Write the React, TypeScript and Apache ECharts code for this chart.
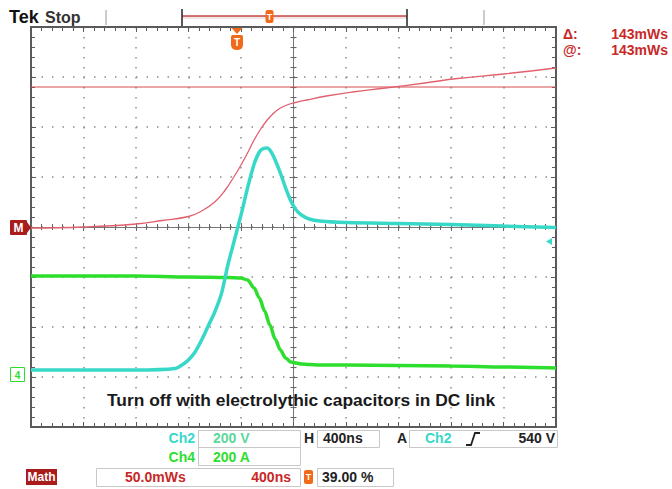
import React, { useEffect, useRef } from "react";
import * as echarts from "echarts";

// Time relative to screen centre, ns (400 ns / div)
const ch2Time = [-2000, -1600, -1200, -900, -850, -800, -750, -700, -650, -600, -550, -500, -450, -400, -350, -300, -260, -230, -200, -170, -140, -100, -60, -20, 20, 60, 120, 200, 400, 800, 1200, 1600, 2000];
// Ch2 (200 V/div), screen divisions from centre
const ch2Div = [-2.86, -2.86, -2.86, -2.83, -2.76, -2.66, -2.5, -2.26, -1.98, -1.7, -1.34, -0.76, -0.26, 0.24, 0.78, 1.26, 1.5, 1.57, 1.58, 1.5, 1.34, 1.08, 0.78, 0.52, 0.34, 0.24, 0.16, 0.12, 0.09, 0.07, 0.05, 0.02, -0.01];

const ch4Time = [-2000, -1600, -1200, -800, -500, -400, -350, -300, -260, -220, -180, -140, -100, -60, -20, 20, 60, 120, 200, 400, 800, 1200, 1600, 2000];
// Ch4 (200 A/div), screen divisions from centre
const ch4Div = [-0.98, -0.98, -0.98, -1.0, -1.01, -1.02, -1.06, -1.22, -1.42, -1.68, -1.96, -2.24, -2.46, -2.62, -2.7, -2.72, -2.74, -2.75, -2.76, -2.76, -2.77, -2.78, -2.8, -2.82];

const mathTime = [-2000, -1600, -1200, -1000, -800, -700, -600, -520, -450, -400, -350, -300, -250, -200, -150, -100, -50, 0, 100, 250, 450, 700, 1000, 1250, 1600, 2000];
// Math (50.0 mWs/div), screen divisions from centre
const mathDiv = [-0.02, 0, 0.06, 0.13, 0.21, 0.32, 0.5, 0.74, 1.02, 1.24, 1.48, 1.74, 1.96, 2.14, 2.28, 2.38, 2.44, 2.48, 2.54, 2.62, 2.7, 2.78, 2.88, 2.97, 3.06, 3.18];

// Horizontal red reference level (divisions)
const refLevelDiv = 2.8;

const headerTexts = { tek: "Tek", state: "Stop" };
const cursorLabels = ["Δ:", "@:"];
const cursorValues = ["143mWs", "143mWs"];
const ch2Scale = "200 V";
const ch4Scale = "200 A";
const timeBase = "400ns";
const trigSource = "Ch2";
const trigLevel = "540 V";
const mathScale = "50.0mWs";
const mathTimeBase = "400ns";
const trigPos = "39.00 %";
const caption = "Turn off with electrolythic capacitors in DC link";

const FONT = "'Liberation Sans', Arial, sans-serif";
const GRID = "#5a5a5a";

function zip(t: number[], v: number[]) {
  return t.map((x, i) => [x, v[i]]);
}

function borderAxis(extra: any) {
  return {
    type: "value",
    axisLabel: { show: false },
    splitLine: { show: false },
    axisLine: { show: true, onZero: false, lineStyle: { color: GRID, width: 2 } },
    axisTick: { show: true, inside: true, length: 5, lineStyle: { color: GRID, width: 1 } },
    minorTick: { show: true, splitNumber: 5, length: 4, lineStyle: { color: GRID, width: 1 } },
    ...extra,
  };
}

function centerAxis(inside: boolean, extra: any) {
  return {
    type: "value",
    axisLabel: { show: false },
    splitLine: { show: false },
    axisLine: { show: true, onZero: true, onZeroAxisIndex: 0, lineStyle: { color: "#777", width: 1 } },
    axisTick: { show: true, inside, length: 4, lineStyle: { color: "#666", width: 1 } },
    minorTick: { show: true, splitNumber: 5, length: 3, lineStyle: { color: "#666", width: 1 } },
    ...extra,
  };
}

const xRange = { min: -2000, max: 2000, interval: 400 };
const yRange = { min: -4, max: 4, interval: 1 };

function txt(x: number, y: number, text: string, fill: string, opts: any = {}) {
  return {
    type: "text",
    x,
    y,
    silent: true,
    style: {
      text,
      fill,
      font: opts.font || `bold 14px ${FONT}`,
      textAlign: opts.align || "left",
      textVerticalAlign: "middle",
    },
    z: 100,
  };
}

function box(x: number, y: number, w: number, h: number, stroke = "#c8c8c8", fill = "none") {
  return { type: "rect", shape: { x, y, width: w, height: h }, style: { stroke, fill, lineWidth: 1 }, silent: true, z: 90 };
}

function line(x1: number, y1: number, x2: number, y2: number, stroke: string, w = 1) {
  return { type: "line", shape: { x1, y1, x2, y2 }, style: { stroke, lineWidth: w }, silent: true, z: 95 };
}

const ORANGE = "#f06a1a";
const RED = "#c82828";
const CYAN = "#38d8c8";
const GREEN = "#2ede2e";

const option: any = {
  animation: false,
  backgroundColor: "#ffffff",
  grid: { left: 31, top: 27, width: 525, height: 400, containLabel: false },
  xAxis: [
    borderAxis({
      ...xRange,
      position: "bottom",
      splitLine: { show: true, lineStyle: { color: "#8c8c8c", width: 1.5, type: [1.5, 8.5] } },
    }),
    borderAxis({ ...xRange, position: "top" }),
    centerAxis(true, { ...xRange, position: "bottom" }),
    centerAxis(false, { ...xRange, position: "bottom" }),
  ],
  yAxis: [
    borderAxis({
      ...yRange,
      position: "left",
      splitLine: { show: true, lineStyle: { color: "#8c8c8c", width: 1.5, type: [1.5, 9] } },
    }),
    borderAxis({ ...yRange, position: "right" }),
    centerAxis(true, { ...yRange, position: "left" }),
    centerAxis(false, { ...yRange, position: "left" }),
  ],
  series: [
    {
      name: "Ref",
      type: "line",
      data: [[-2000, refLevelDiv], [2000, refLevelDiv]],
      showSymbol: false,
      lineStyle: { color: "#d44c4c", width: 1.2 },
      z: 3,
    },
    {
      name: "Math",
      type: "line",
      data: zip(mathTime, mathDiv),
      showSymbol: false,
      smooth: 0.45,
      lineStyle: { color: "#e2606e", width: 1.3 },
      z: 4,
    },
    {
      name: "Ch4",
      type: "line",
      data: zip(ch4Time, ch4Div),
      showSymbol: false,
      smooth: 0.3,
      smoothMonotone: "x",
      lineStyle: { color: GREEN, width: 3.5 },
      z: 5,
    },
    {
      name: "Ch2",
      type: "line",
      data: zip(ch2Time, ch2Div),
      showSymbol: false,
      smooth: 0.3,
      lineStyle: { color: CYAN, width: 3.5 },
      z: 6,
    },
  ],
  graphic: [
    // header
    txt(9, 17, headerTexts.tek, "#111", { font: `bold 18px ${FONT}` }),
    txt(45, 17, headerTexts.state, "#333", { font: `bold 16px ${FONT}` }),
    line(106, 10, 106, 25, "#999", 1),
    line(484, 10, 484, 25, "#999", 1),
    { type: "rect", shape: { x: 182, y: 16, width: 225, height: 3 }, style: { fill: "#f6e4e4" }, silent: true, z: 90 },
    line(182, 16, 407, 16, "#c04848", 1.5),
    line(182, 9, 182, 26, "#222", 1.5),
    line(407, 9, 407, 26, "#222", 1.5),
    { type: "rect", shape: { x: 265.5, y: 10, width: 8, height: 13, r: 2 }, style: { fill: ORANGE }, silent: true, z: 96 },
    txt(269.5, 16.5, "T", "#fff", { font: `bold 9px ${FONT}`, align: "center" }),
    // trigger marker below top border
    { type: "polygon", shape: { points: [[231.5, 28], [242.5, 28], [237, 34]] }, style: { fill: ORANGE }, silent: true, z: 96 },
    { type: "rect", shape: { x: 231, y: 35, width: 12, height: 15, r: [2, 2, 5, 5] }, style: { fill: ORANGE }, silent: true, z: 96 },
    txt(237, 42.5, "T", "#fff", { font: `bold 10px ${FONT}`, align: "center" }),
    // M marker
    { type: "rect", shape: { x: 10, y: 220, width: 17, height: 15, r: 1 }, style: { fill: "#a81c1c" }, silent: true, z: 96 },
    { type: "polygon", shape: { points: [[27, 222], [31, 227.5], [27, 233]] }, style: { fill: "#a81c1c" }, silent: true, z: 96 },
    txt(18.5, 228, "M", "#fff", { font: `bold 12px ${FONT}`, align: "center" }),
    // Ch4 ground marker
    { type: "rect", shape: { x: 10.5, y: 367.5, width: 14, height: 14 }, style: { fill: "#fff", stroke: GREEN, lineWidth: 1 }, silent: true, z: 96 },
    txt(17.5, 375, "4", GREEN, { font: `bold 10px ${FONT}`, align: "center" }),
    // trigger level marker (right)
    { type: "polygon", shape: { points: [[546, 241.5], [552, 238], [552, 245]] }, style: { fill: CYAN }, silent: true, z: 96 },
    // cursor readouts
    txt(563, 34, cursorLabels[0], RED, { font: `bold 14px ${FONT}` }),
    txt(563, 50, cursorLabels[1], RED, { font: `bold 14px ${FONT}` }),
    txt(668, 34, cursorValues[0], RED, { font: `bold 14px ${FONT}`, align: "right" }),
    txt(668, 50, cursorValues[1], RED, { font: `bold 14px ${FONT}`, align: "right" }),
    // caption
    txt(107, 400, caption, "#1a1a1a", { font: `bold 17.4px ${FONT}` }),
    // bottom row 1
    txt(195, 438, "Ch2", CYAN, { align: "right" }),
    box(198.5, 430.5, 102, 17),
    txt(213, 438, ch2Scale, "#5cd89a"),
    txt(304, 438, "H", "#222"),
    box(317.5, 430.5, 62, 17),
    txt(323, 438, timeBase, "#222"),
    txt(397, 438, "A", "#222"),
    box(409.5, 430.5, 148, 17),
    txt(425, 438, trigSource, CYAN),
    { type: "polyline", shape: { points: [[466, 445], [471, 445], [475, 433], [480, 433]] }, style: { stroke: "#222", lineWidth: 1.8, fill: "none" }, silent: true, z: 96 },
    txt(555, 438, trigLevel, "#222", { align: "right" }),
    // bottom row 2
    txt(195, 457, "Ch4", GREEN, { align: "right" }),
    box(198.5, 447.5, 102, 18),
    txt(213, 457, ch4Scale, GREEN),
    // bottom row 3
    { type: "rect", shape: { x: 26, y: 469, width: 31, height: 16 }, style: { fill: "#a81c1c" }, silent: true, z: 96 },
    txt(41.5, 477, "Math", "#fff", { font: `bold 12px ${FONT}`, align: "center" }),
    box(96.5, 468.5, 204, 18),
    txt(125, 477, mathScale, RED),
    txt(291, 477, mathTimeBase, RED, { align: "right" }),
    { type: "rect", shape: { x: 304, y: 470, width: 9, height: 14, r: 2 }, style: { fill: ORANGE }, silent: true, z: 96 },
    txt(308.5, 477, "T", "#fff", { font: `bold 9px ${FONT}`, align: "center" }),
    box(317.5, 468.5, 76, 18),
    txt(322, 477, trigPos, "#222"),
  ],
};

export default function App() {
  const ref = useRef<HTMLDivElement>(null);
  useEffect(() => {
    const chart = echarts.init(ref.current as HTMLDivElement, null, { renderer: "svg" });
    chart.setOption(option);
    return () => chart.dispose();
  }, []);
  return (
    <div
      ref={ref}
      style={{ position: "fixed", left: 0, top: 0, width: 672, height: 489, background: "#fff" }}
    />
  );
}
